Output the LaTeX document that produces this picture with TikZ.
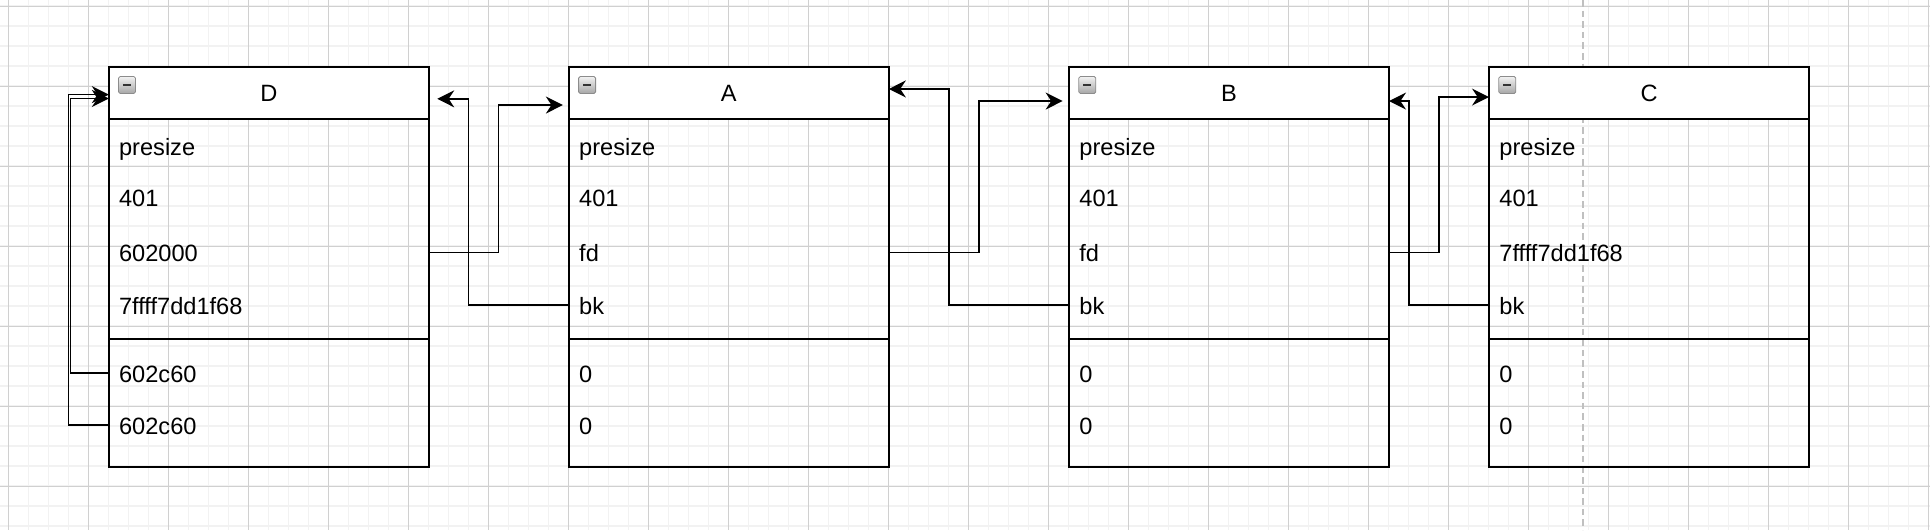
\documentclass[tikz,border=0pt]{standalone}
\usepackage{fontspec}
\setmainfont{Liberation Sans}
\usetikzlibrary{arrows.meta,calc,positioning}

\definecolor{gridminor}{HTML}{F2F2F2}
\definecolor{gridmajor}{HTML}{D0D0D0}
\definecolor{pagebreak}{HTML}{C0C0C0}

\tikzset{
  chunkhead/.style={draw, line width=0.9pt, fill=white, minimum width=160pt,
    minimum height=26.15pt, inner sep=0pt, outer sep=0pt, text height=8.9pt},
  chunkbody/.style={draw, line width=0.9pt, minimum width=160pt,
    inner sep=0pt, outer sep=0pt},
  icon/.style={draw=black!45, line width=0.4pt, rounded corners=0.8pt,
    top color=black!5, bottom color=black!35, minimum size=8.5pt, inner sep=0pt,
    path picture={\draw[line width=1.2pt, black!80]
      ([xshift=2.2pt]path picture bounding box.west) --
      ([xshift=-2.2pt]path picture bounding box.east);}},
  field/.style={anchor=west, inner sep=0pt, text height=9.2pt, text depth=0pt},
  link/.style={line width=0.8pt, -{Stealth[length=8.5pt,width=8.5pt,inset=2.8pt]}}
}

\begin{document}
\begin{tikzpicture}[x=0.5pt, y=-0.5pt, font=\fontsize{11.8}{14}\selectfont]
  \useasboundingbox (0,0) rectangle (1930,530);

  % background grid and page break
  \foreach \gx in {8.3,28.3,...,1930} \draw[gridminor, line width=0.75pt] (\gx,0) -- (\gx,530);
  \foreach \gy in {6,26,...,530} \draw[gridminor, line width=0.75pt] (0,\gy) -- (1930,\gy);
  \foreach \gx in {8.3,88.3,...,1930} \draw[gridmajor, line width=0.5pt] (\gx,0) -- (\gx,530);
  \foreach \gy in {6,86,...,530} \draw[gridmajor, line width=0.5pt] (0,\gy) -- (1930,\gy);
  \draw[pagebreak, line width=0.85pt, dash pattern=on 3.3pt off 2pt] (1582.7,0) -- (1582.7,530);

  % chunks
  \begin{scope}[every node/.style={chunkhead}]
    \node (D) at (268.85,92.85) {D};
    \node (A) at (728.85,92.85) {A};
    \node (B) at (1229,92.85)   {B};
    \node (C) at (1649,92.85)   {C};
  \end{scope}

  \begin{scope}[every node/.style={chunkbody}]
    \node[minimum height=109.85pt, below=0pt of D] (Dtop) {};
    \node[minimum height=64pt, below=0pt of Dtop]  (Dbot) {};
    \node[minimum height=109.85pt, below=0pt of A] (Atop) {};
    \node[minimum height=64pt, below=0pt of Atop]  (Abot) {};
    \node[minimum height=109.85pt, below=0pt of B] (Btop) {};
    \node[minimum height=64pt, below=0pt of Btop]  (Bbot) {};
    \node[minimum height=109.85pt, below=0pt of C] (Ctop) {};
    \node[minimum height=64pt, below=0pt of Ctop]  (Cbot) {};
  \end{scope}

  \begin{scope}[every node/.style={icon}]
    \node (Dicon) at (127,85)    {};
    \node (Aicon) at (587.1,85)  {};
    \node (Bicon) at (1087.3,85) {};
    \node (Cicon) at (1507.3,85) {};
  \end{scope}

  % fields
  \begin{scope}[every node/.style={field}]
    \node (Dpre)  at (118.7,146)   {presize};
    \node (Dsize) at (118.7,197.5) {401};
    \node (Dfd)   at (118.7,252.5) {602000};
    \node (Dbk)   at (118.7,305)   {7ffff7dd1f68};
    \node (Dnxa)  at (118.7,373)   {602c60};
    \node (Dnxb)  at (118.7,425)   {602c60};

    \node (Apre)  at (578.8,146)   {presize};
    \node (Asize) at (578.8,197.5) {401};
    \node (Afd)   at (578.8,252.5) {fd};
    \node (Abk)   at (578.8,305)   {bk};
    \node (Anxa)  at (578.8,373)   {0};
    \node (Anxb)  at (578.8,425)   {0};

    \node (Bpre)  at (1079,146)   {presize};
    \node (Bsize) at (1079,197.5) {401};
    \node (Bfd)   at (1079,252.5) {fd};
    \node (Bbk)   at (1079,305)   {bk};
    \node (Bnxa)  at (1079,373)   {0};
    \node (Bnxb)  at (1079,425)   {0};

    \node (Cpre)  at (1499,146)   {presize};
    \node (Csize) at (1499,197.5) {401};
    \node (Cfd)   at (1499,252.5) {7ffff7dd1f68};
    \node (Cbk)   at (1499,305)   {bk};
    \node (Cnxa)  at (1499,373)   {0};
    \node (Cnxb)  at (1499,425)   {0};
  \end{scope}

  % fd / bk links
  \draw[link, shorten >=3pt]   (Dtop.east |- Dfd.west) -- ++(69.5,0)   |- ($(A.west)+(0,12.2)$);
  \draw[link, shorten >=4.2pt] (Atop.west |- Abk.west) -- ++(-100.3,0) |- ($(D.east)+(0,6)$);
  \draw[link, shorten >=3.2pt] (Atop.east |- Afd.west) -- ++(90,0)     |- ($(B.west)+(0,8.2)$);
  \draw[link] (Btop.west |- Bbk.west) -- ++(-120,0)  |- ($(A.east)+(0,-3.9)$);
  \draw[link] (Btop.east |- Bfd.west) -- ++(49.7,0)  |- ($(C.west)+(0,4.2)$);
  \draw[link] (Ctop.west |- Cbk.west) -- ++(-80.3,0) |- ($(B.east)+(0,8.2)$);
  \draw[link] (Dbot.west |- Dnxa.west) -- ++(-38.5,0) |- ($(D.west)+(0,5.6)$);
  \draw[link] (Dbot.west |- Dnxb.west) -- ++(-40.3,0) |- ($(D.west)+(0,1.8)$);

\end{tikzpicture}
\end{document}
